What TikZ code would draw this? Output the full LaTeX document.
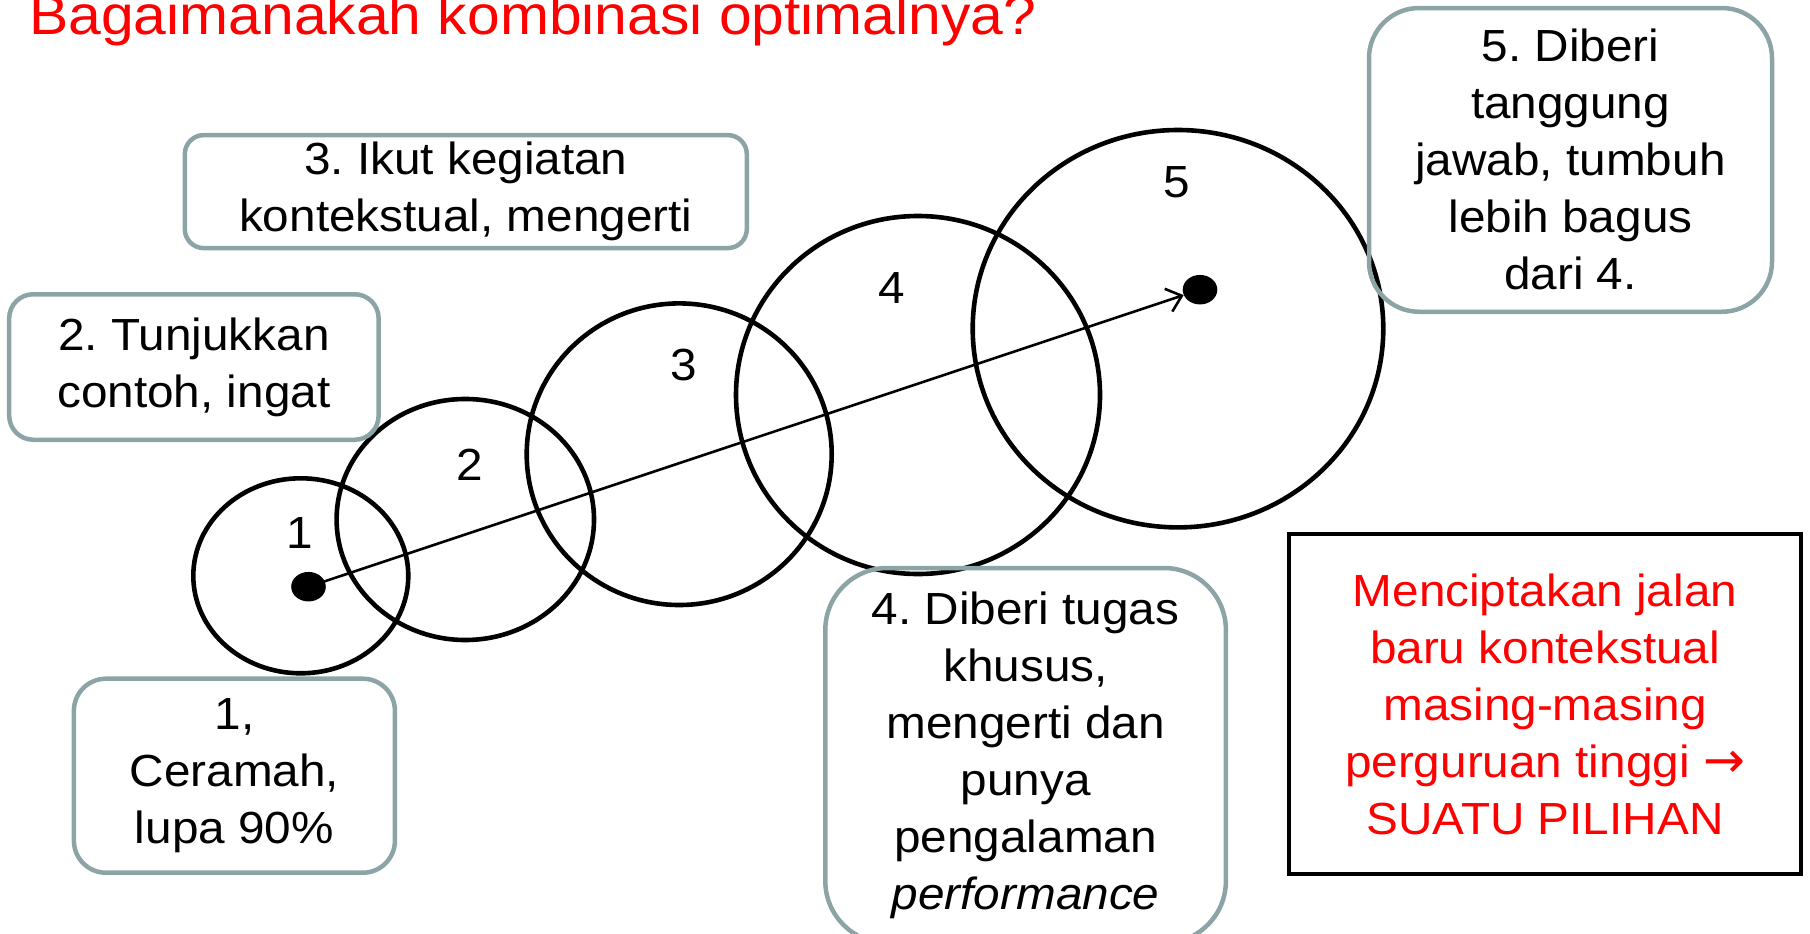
\documentclass[tikz,border=0pt]{standalone}
\usepackage{fontspec}
\setmainfont{Liberation Sans}[FakeStretch=1.06]
\newfontfamily\arrowfont{DejaVu Sans}
\usetikzlibrary{arrows.meta,shapes.geometric}
\definecolor{boxgray}{RGB}{141,164,166}
\frenchspacing
\tikzset{
  ring/.style={draw=black, line width=4.6pt, ellipse, inner sep=0pt},
  numlabel/.style={anchor=base, font=\fontsize{45}{57}\selectfont, inner sep=0pt},
  txtbox/.style={draw=boxgray, line width=4.5pt, align=center, font=\fontsize{45}{57}\selectfont\frenchspacing, inner sep=0pt},
  redbox/.style={draw=black, line width=4pt, align=center, text=red, font=\fontsize{45}{57}\selectfont, inner sep=0pt},
  dotnode/.style={ellipse, fill=black, inner sep=0pt, minimum width=34.6pt, minimum height=29.5pt},
  flow/.style={line width=2.6pt, -{Straight Barb[length=14pt,width=24pt,line width=2.6pt]}},
}
\begin{document}
\begin{tikzpicture}[x=1pt,y=-1pt]
\useasboundingbox (0,0) rectangle (1810,934);
\clip (0,0) rectangle (1810,934);

\node[anchor=base west, inner sep=0pt, text=red, font=\fontsize{55.5}{60}\selectfont] (title) at (29,35) {Bagaimanakah kombinasi optimalnya?};

\node[ring, minimum width=215pt, minimum height=195pt] (c1) at (300.8,575.8) {};
\node[ring, minimum width=257.4pt, minimum height=241pt] (c2) at (465.3,519.5) {};
\node[ring, minimum width=305pt, minimum height=301.6pt] (c3) at (679.2,454.2) {};
\node[ring, minimum width=364pt, minimum height=358pt] (c4) at (918,395) {};
\node[ring, minimum width=410.6pt, minimum height=397.4pt] (c5) at (1178,328.7) {};

\node[numlabel] (n1) at (300,548.3) {1};
\node[numlabel] (n2) at (470,480.7) {2};
\node[numlabel] (n3) at (683.7,380.7) {3};
\node[numlabel] (n4) at (892,303.3) {4};
\node[numlabel] (n5) at (1177,197.3) {5};

\node[dotnode] (d1) at (308.5,586.7) {};
\node[dotnode] (d5) at (1200,289.7) {};
\draw[flow] (d1.center) -- (d5);

\node[txtbox, rounded corners=32pt, minimum width=321pt, minimum height=194pt] (b1) at (234.4,775.7) {1,\\Ceramah,\\lupa 90\%};
\node[txtbox, rounded corners=24pt, minimum width=369.4pt, minimum height=145.5pt] (b2) at (193.9,367) {2. Tunjukkan\\contoh, ingat};
\node[txtbox, rounded corners=19pt, minimum width=562pt, minimum height=113pt] (b3) at (465.8,191.6) {3. Ikut kegiatan\\kontekstual, mengerti};
\node[txtbox, rounded corners=62pt, minimum width=400.6pt, minimum height=375pt] (b4) at (1025.6,755.5) {4. Diberi tugas\\khusus,\\mengerti dan\\punya\\pengalaman\\\textit{performance}};
\node[txtbox, rounded corners=50pt, minimum width=403pt, minimum height=303.7pt] (b5) at (1570.5,159.9) {5. Diberi\\tanggung\\jawab, tumbuh\\lebih bagus\\dari 4.};
\node[redbox, minimum width=511.3pt, minimum height=339.4pt] (rb) at (1545,704.1) {Menciptakan jalan\\baru kontekstual\\masing-masing\\perguruan tinggi {\arrowfont\fontsize{50}{57}\selectfont →}\\SUATU PILIHAN};
\end{tikzpicture}
\end{document}
